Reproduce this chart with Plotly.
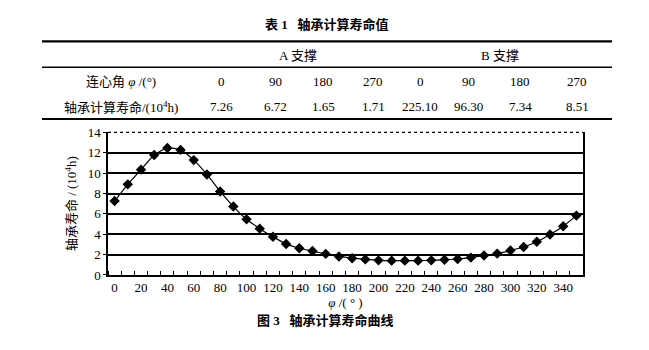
import plotly.graph_objects as go

# Curve: calculated bearing life vs. phase angle
angles = list(range(0, 360, 10))
life = [7.26, 8.90, 10.34, 11.78, 12.47, 12.28, 11.28, 9.87, 8.20, 6.72,
        5.48, 4.55, 3.76, 3.04, 2.63, 2.35, 2.07, 1.82, 1.65, 1.53,
        1.44, 1.41, 1.41, 1.41, 1.44, 1.50, 1.57, 1.71, 1.91, 2.10,
        2.41, 2.75, 3.26, 3.98, 4.79, 5.83]

# Table 1 contents
table_title = "表 1   轴承计算寿命值"
group_labels = ["A 支撑", "B 支撑"]
row_labels = ["连心角 <i>φ</i> /(°)", "轴承计算寿命/(10<sup>4</sup>h)"]
angle_row = ["0", "90", "180", "270", "0", "90", "180", "270"]
life_row = ["7.26", "6.72", "1.65", "1.71", "225.10", "96.30", "7.34", "8.51"]
caption = "图 3   轴承计算寿命曲线"

W, H = 649, 350
FONT = "Liberation Serif, DejaVu Serif, Noto Sans CJK SC, serif"


def px(x):
    return x / W


def py(y):
    return 1 - y / H


def label(x, y, text, size=13):
    return dict(x=px(x), y=py(y), text=text, showarrow=False,
                xref="paper", yref="paper", xanchor="center", yanchor="middle",
                font=dict(size=size, color="black", family=FONT))


fig = go.Figure()
fig.add_trace(go.Scatter(
    x=angles, y=life, mode="lines+markers",
    line=dict(color="black", width=1.2, shape="spline", smoothing=0.6),
    marker=dict(symbol="diamond", size=8, color="black"),
    showlegend=False,
))

annotations = [label(327, 18, "<b>" + table_title + "</b>")]
shapes = []

# table rules
for yy, w in [(36, 2.2), (63, 1.4), (117, 2.2)]:
    shapes.append(dict(type="line", xref="paper", yref="paper",
                       x0=px(42), x1=px(612), y0=py(yy), y1=py(yy),
                       line=dict(color="black", width=w)))

# group headers
for lbl, cx in zip(group_labels, [298, 500]):
    annotations.append(label(cx, 51, lbl))

col_x = [221, 275, 323, 373, 420, 468, 520, 577]
for row_y, lbl, vals in [(78, row_labels[0], angle_row), (104, row_labels[1], life_row)]:
    annotations.append(label(121, row_y, lbl))
    for cx, v in zip(col_x, vals):
        annotations.append(label(cx, row_y, v))

# figure caption
annotations.append(label(325, 328, "<b>" + caption + "</b>"))

# dotted top border of the plot area
shapes.append(dict(type="line", xref="paper", yref="paper",
                   x0=px(108), x1=px(583), y0=py(131), y1=py(131),
                   line=dict(color="black", width=1.2, dash="dot")))

fig.update_layout(
    width=W, height=H,
    margin=dict(l=0, r=0, t=0, b=0),
    paper_bgcolor="white", plot_bgcolor="white",
    font=dict(family=FONT, color="black", size=13),
    annotations=annotations, shapes=shapes,
    xaxis=dict(
        domain=[px(108), px(583)],
        range=[-5, 355],
        tickmode="array", tickvals=list(range(0, 360, 20)),
        ticktext=[str(v) for v in range(0, 360, 20)],
        ticks="", showgrid=False, zeroline=False,
        showline=True, linecolor="black", linewidth=1.5,
        tickfont=dict(size=13, family=FONT),
        minor=dict(tickmode="linear", tick0=5, dtick=10, ticks="inside",
                   ticklen=4, tickwidth=1, tickcolor="black", showgrid=False),
        title=dict(text="<i>φ</i> /( ° )", font=dict(size=13, family=FONT), standoff=0),
    ),
    yaxis=dict(
        domain=[py(280), py(131)],
        range=[0, 14], dtick=2,
        showgrid=True, gridcolor="black", gridwidth=2.2,
        zeroline=False, showline=True, linecolor="black", linewidth=1.5,
        mirror=True, ticks="outside", ticklen=3, tickcolor="black",
        tickfont=dict(size=13, family=FONT),
        title=dict(text="轴承寿命 / (10<sup>4</sup>h)", font=dict(size=13, family=FONT),
                   standoff=8),
    ),
)

fig.write_html("out.html")
